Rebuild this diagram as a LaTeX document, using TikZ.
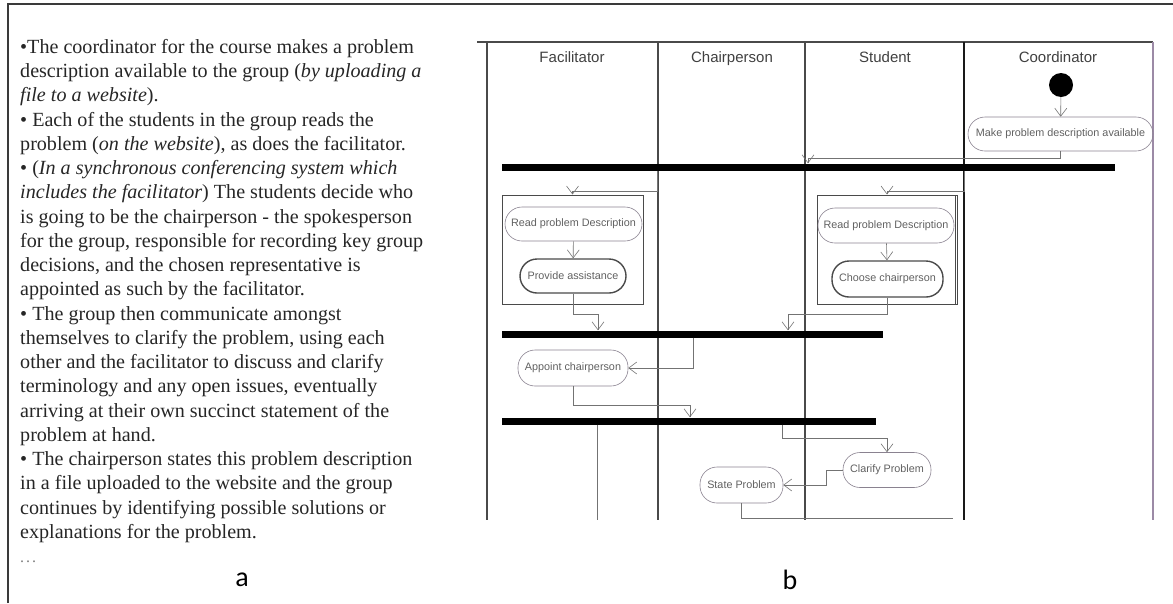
\documentclass[tikz,border=0pt]{standalone}
\usepackage{fontspec}
\setmainfont{Liberation Serif}
\newfontfamily\arialf{Liberation Sans}
\newfontfamily\calib{Carlito}
\usetikzlibrary{arrows.meta}
\definecolor{frame}{HTML}{3A3A3A}
\definecolor{lanec}{HTML}{4A4A4A}
\definecolor{purpl}{HTML}{9C8AA6}
\definecolor{nodec}{HTML}{8A8290}
\definecolor{ntext}{HTML}{606060}
\tikzset{
  act/.style={draw=nodec, line width=0.6pt, rectangle, rounded corners=17pt, inner sep=0pt,
    font=\arialf\fontsize{10.8}{12}\selectfont, text=ntext},
  actb/.style={act, draw=lanec, line width=1.4pt},
  comp/.style={draw=lanec, line width=1pt, rectangle, inner sep=0pt},
  forkbar/.style={fill=black, draw=none, rectangle, inner sep=0pt, minimum height=7pt},
  arr/.style={draw=gray!90!black, line width=0.6pt, -{Straight Barb[length=8pt,width=12pt]}},
  flow/.style={draw=gray!90!black, line width=0.6pt},
  lane/.style={draw=lanec, line width=1.2pt},
  head/.style={font=\arialf\fontsize{15}{17}\selectfont, text=black!75, anchor=base},
  sublabel/.style={font=\calib\fontsize{28}{30}\selectfont}
}
\begin{document}
\begin{tikzpicture}[x=1pt,y=-1pt]
\useasboundingbox (0,0) rectangle (1173,603);
% outer frame
\draw[frame, line width=1.5pt] (8,603) -- (8,4) -- (1173,4);

% left text
\node[anchor=north west, inner sep=0pt, align=left, text=black!85,
  font=\fontsize{20.1}{24.25}\selectfont] (txt) at (20,39) {%
\textbullet The coordinator for the course makes a problem\\
description available to the group (\textit{by uploading a}\\
\textit{file to a website}).\\
\textbullet{} Each of the students in the group reads the\\
problem (\textit{on the website}), as does the facilitator.\\
\textbullet{} (\textit{In a synchronous conferencing system which}\\
\textit{includes the facilitator}) The students decide who\\
is going to be the chairperson - the spokesperson\\
for the group, responsible for recording key group\\
decisions, and the chosen representative is\\
appointed as such by the facilitator.\\
\textbullet{} The group then communicate amongst\\
themselves to clarify the problem, using each\\
other and the facilitator to discuss and clarify\\
terminology and any open issues, eventually\\
arriving at their own succinct statement of the\\
problem at hand.\\
\textbullet{} The chairperson states this problem description\\
in a file uploaded to the website and the group\\
continues by identifying possible solutions or\\
explanations for the problem.\\
{\color{gray}\fontsize{16}{18}\selectfont .\kern2pt.\kern2pt.}};

\node[sublabel] (la) at (242,580) {a};
\node[sublabel] (lb) at (790,580) {b};

% swimlanes
\draw[lane] (477,42) -- (1153,42);
\draw[lane] (487,42) -- (487,520);
\draw[lane] (658,42) -- (658,520);
\draw[lane] (805,42) -- (805,520);
\draw[draw=black!90, line width=1.8pt] (964,42) -- (964,520);
\draw[draw=purpl, line width=1.6pt] (1153,42) -- (1153,520);

\node[head] (hF) at (572,62) {Facilitator};
\node[head] (hC) at (732,62) {Chairperson};
\node[head] (hS) at (885,62) {Student};
\node[head] (hK) at (1058,62) {Coordinator};

% coordinates for lane x positions
\coordinate (x597) at (597,0);
\coordinate (x598) at (598,0);
\coordinate (x657) at (657,0);
\coordinate (x690) at (690,0);
\coordinate (x693) at (693,0);
\coordinate (x782) at (782,0);
\coordinate (x788) at (788,0);
\coordinate (x808) at (808,0);
\coordinate (x964) at (964,0);
\coordinate (bottom) at (0,520);

% nodes
\node[circle, fill=black, inner sep=0pt, minimum size=24pt] (start) at (1061,85) {};
\node[act, minimum width=185pt, minimum height=34pt] (make) at (1060.5,134) {Make problem description available};
\node[forkbar, minimum width=613pt] (bar1) at (808.5,167) {};

\node[comp, minimum width=141pt, minimum height=109pt] (compF) at (572.5,249.5) {};
\node[comp, minimum width=140pt, minimum height=109pt] (compS) at (887,249.5) {};
\draw[lanec, line width=0.8pt] (955,195) -- (955,304);

\node[act, minimum width=137pt, minimum height=34pt] (readF) at (573.5,224) {Read problem Description};
\node[actb, minimum width=106pt, minimum height=34pt] (provide) at (573,276) {Provide assistance};
\node[act, minimum width=136pt, minimum height=35pt] (readS) at (886,225.5) {Read problem Description};
\node[actb, minimum width=111pt, minimum height=36pt] (choose) at (887.5,279) {Choose chairperson};

\node[forkbar, minimum width=381pt] (bar2) at (692.5,334) {};
\node[act, minimum width=110pt, minimum height=36pt] (appoint) at (573,368) {Appoint chairperson};
\node[forkbar, minimum width=374pt] (bar3) at (689,421) {};
\node[act, minimum width=88pt, minimum height=35pt] (clarify) at (887,470) {Clarify Problem};
\node[act, minimum width=83pt, minimum height=36pt] (state) at (741.5,485) {State Problem};
\coordinate (endS) at (953,518);

% connectors
\draw[arr] (start) -- (make);
\draw[arr] (make.south) -- ++(0,7) -| (bar1.north -| x808);
\draw[arr] (bar1.south -| x657) -- ++(0,20.5) -| (compF.north);
\draw[arr] (bar1.south -| x964) -- ++(0,20.5) -| (compS.north);
\draw[arr] (readF) -- (provide);
\draw[arr] (readS) -- (choose);
\draw[arr] (provide.south) -- ++(0,21) -| (bar2.north -| x598);
\draw[arr] (choose.south) -- ++(0,17) -| (bar2.north -| x788);
\draw[arr] (bar2.south -| x693) |- (appoint.east);
\draw[arr] (appoint.south) -- ++(0,19) -| (bar3.north -| x690);
\draw[flow] (bar3.south -| x597) -- (bottom -| x597);
\draw[arr] (bar3.south -| x782) -- ++(0,13.5) -| (clarify.north);
\draw[arr] (clarify.west) -- ++(-16,0) |- (state.east);
\draw[flow] (state.south) |- (endS);
\end{tikzpicture}
\end{document}
